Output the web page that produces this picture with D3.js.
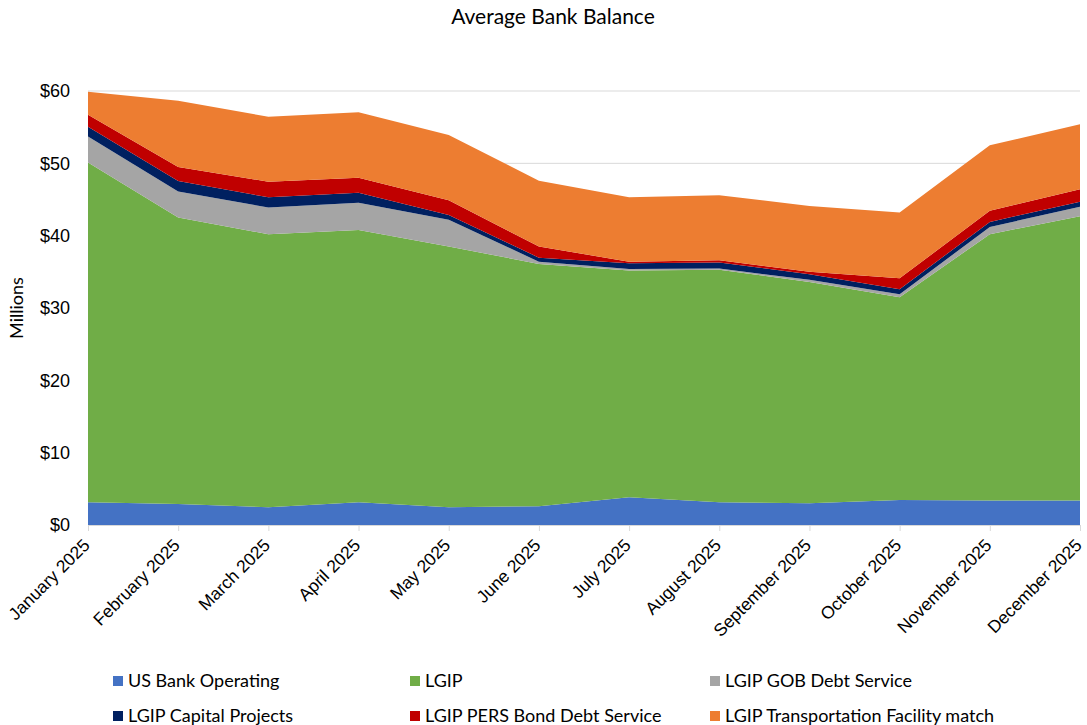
<!DOCTYPE html>
<html>
<head>
<meta charset="utf-8">
<script src="https://cdn.jsdelivr.net/npm/d3@7"></script>
<style>
  html, body { margin: 0; padding: 0; background: #fff; }
  svg { display: block; font-family: Lato, "Open Sans", sans-serif; }
</style>
</head>
<body>
<svg id="chart" width="1087" height="725"></svg>
<script>
const months = ["January 2025","February 2025","March 2025","April 2025","May 2025","June 2025",
  "July 2025","August 2025","September 2025","October 2025","November 2025","December 2025"];

const usBankOperating = [3.14, 2.9, 2.45, 3.14, 2.45, 2.6, 3.83, 3.14, 3.0, 3.46, 3.4, 3.4];
const lgip            = [46.96, 39.6, 37.75, 37.66, 36.05, 33.5, 31.37, 32.16, 30.6, 28.04, 36.8, 39.3];
const lgipGOB         = [3.6, 3.6, 3.7, 3.76, 3.7, 0.3, 0.2, 0.15, 0.3, 0.4, 1.0, 1.3];
const lgipCapital     = [1.37, 1.46, 1.4, 1.39, 0.66, 0.56, 0.8, 0.85, 0.76, 0.7, 0.7, 0.7];
const lgipPERS        = [1.63, 1.94, 2.16, 2.05, 2.04, 1.54, 0.2, 0.3, 0.34, 1.5, 1.55, 1.7];
const lgipTransport   = [3.2, 9.16, 8.99, 9.05, 9.0, 9.1, 8.9, 9.0, 9.1, 9.1, 9.05, 9.0];

const seriesNames = ["US Bank Operating","LGIP","LGIP GOB Debt Service","LGIP Capital Projects",
  "LGIP PERS Bond Debt Service","LGIP Transportation Facility match"];
const seriesValues = [usBankOperating, lgip, lgipGOB, lgipCapital, lgipPERS, lgipTransport];
const colors = ["#4472c4","#70ad47","#a5a5a5","#002060","#c00000","#ed7d31"];
const yTicks = [0,10,20,30,40,50,60];

const svg = d3.select("#chart");
const mLeft = 88, mRight = 1080, mTop = 91, mBottom = 525;

const x = d3.scalePoint().domain(months).range([mLeft, mRight]);
const y = d3.scaleLinear().domain([0, 60]).range([mBottom, mTop]);

const rows = months.map((m, i) => {
  const r = { month: m };
  seriesNames.forEach((s, k) => r[s] = seriesValues[k][i]);
  return r;
});
const stacked = d3.stack().keys(seriesNames)(rows);

// gridlines
svg.append("g").selectAll("line").data(yTicks.filter(d => d > 0)).join("line")
  .attr("x1", mLeft).attr("x2", mRight)
  .attr("y1", d => y(d)).attr("y2", d => y(d))
  .attr("stroke", "#d9d9d9").attr("stroke-width", 1);

// areas
const area = d3.area()
  .x(d => x(d.data.month))
  .y0(d => y(d[0]))
  .y1(d => y(d[1]));
svg.append("g").selectAll("path").data(stacked).join("path")
  .attr("d", area)
  .attr("fill", (d, i) => colors[i]);

// x axis
const xAxis = svg.append("g").attr("transform", `translate(0,${mBottom})`)
  .call(d3.axisBottom(x).tickSize(6).tickPadding(4));
xAxis.select(".domain").attr("stroke", "#d9d9d9").attr("d", `M${mLeft},0.5H${mRight}`);
xAxis.selectAll(".tick line").attr("stroke", "#d9d9d9");
xAxis.selectAll(".tick text")
  .attr("font-size", 17.5).attr("fill", "#000")
  .attr("text-anchor", "end")
  .attr("dy", null)
  .attr("transform", "translate(-1,18) rotate(-45)")
  .attr("x", 0).attr("y", 0)
  .attr("dominant-baseline", "middle");

// y axis
const yAxis = svg.append("g").attr("transform", `translate(${mLeft},0)`)
  .call(d3.axisLeft(y).tickValues(yTicks).tickFormat(d => "$" + d).tickSize(0).tickPadding(18));
yAxis.select(".domain").remove();
yAxis.selectAll(".tick text").attr("font-size", 18).attr("fill", "#000");

// y title
svg.append("text")
  .attr("transform", `translate(23,${(mTop + mBottom) / 2}) rotate(-90)`)
  .attr("text-anchor", "middle")
  .attr("font-size", 18).attr("fill", "#000")
  .text("Millions");

// title
svg.append("text")
  .attr("x", 553).attr("y", 24)
  .attr("text-anchor", "middle")
  .attr("font-size", 21).attr("fill", "#000")
  .text("Average Bank Balance");

// legend
const legX = [113, 410, 710], legY = [681, 716];
const leg = svg.append("g").selectAll("g").data(seriesNames).join("g")
  .attr("transform", (d, i) => `translate(${legX[i % 3]},${legY[Math.floor(i / 3)]})`);
leg.append("rect").attr("x", 0).attr("y", -5).attr("width", 10).attr("height", 10)
  .attr("fill", (d, i) => colors[i]);
leg.append("text").attr("x", 15).attr("y", 0).attr("dy", "0.35em")
  .attr("font-size", 18).attr("fill", "#000").text(d => d);
</script>
</body>
</html>
